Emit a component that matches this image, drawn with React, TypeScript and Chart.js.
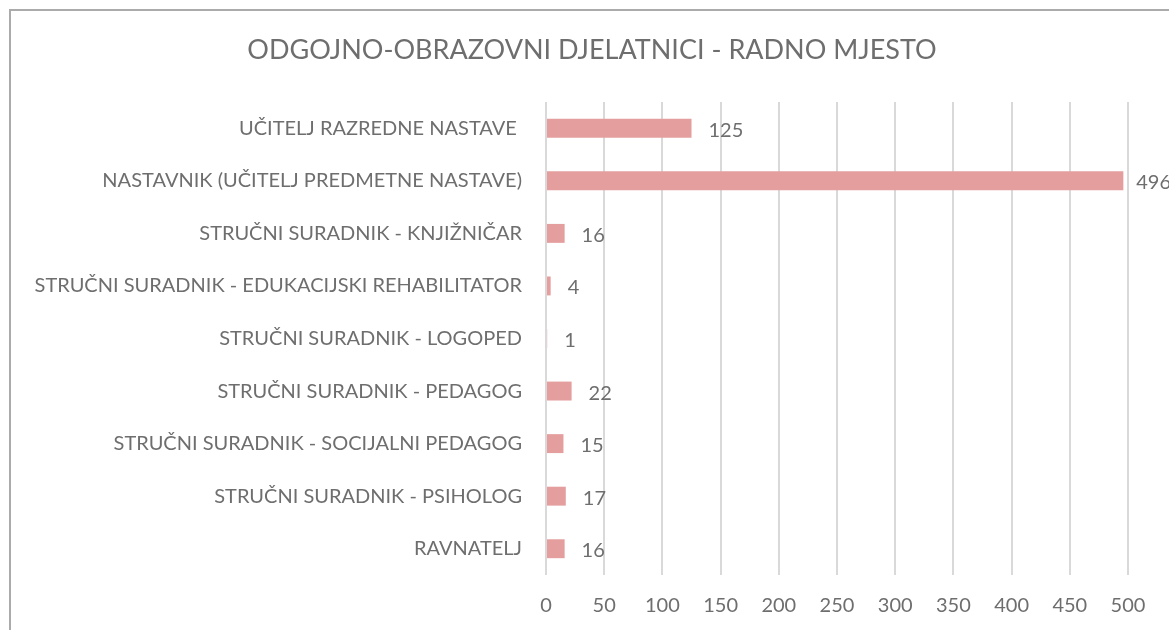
import React, { useEffect, useRef } from "react";
import { Chart, registerables } from "chart.js";

Chart.register(...registerables);

const TITLE = "ODGOJNO-OBRAZOVNI DJELATNICI - RADNO MJESTO";
const categories = [
  "UČITELJ RAZREDNE NASTAVE ",
  "NASTAVNIK (UČITELJ PREDMETNE NASTAVE)",
  "STRUČNI SURADNIK - KNJIŽNIČAR",
  "STRUČNI SURADNIK - EDUKACIJSKI REHABILITATOR",
  "STRUČNI SURADNIK - LOGOPED",
  "STRUČNI SURADNIK - PEDAGOG",
  "STRUČNI SURADNIK - SOCIJALNI PEDAGOG",
  "STRUČNI SURADNIK - PSIHOLOG",
  "RAVNATELJ",
];
const values = [125, 496, 16, 4, 1, 22, 15, 17, 16];
const xTicks = [0, 50, 100, 150, 200, 250, 300, 350, 400, 450, 500];

const FONT = "Lato";
const TEXT = "#6e6e6e";

export default function App() {
  const ref = useRef<HTMLCanvasElement>(null);
  useEffect(() => {
    document.body.style.margin = "0";
    document.body.style.overflow = "hidden";
    const canvas = ref.current!;
    const decor = {
      id: "decor",
      beforeDraw(chart: any) {
        const ctx = chart.ctx;
        ctx.save();
        ctx.fillStyle = "#ffffff";
        ctx.fillRect(0, 0, chart.width, chart.height);
        ctx.fillStyle = "#ababab";
        ctx.fillRect(9, 9, 2, chart.height);
        ctx.fillRect(9, 9, chart.width, 2);
        ctx.fillStyle = TEXT;
        ctx.font = `27px ${FONT}`;
        ctx.textAlign = "center";
        ctx.textBaseline = "middle";
        ctx.fillText(TITLE, 592, 50);
        ctx.restore();
      },
      afterDatasetsDraw(chart: any) {
        const ctx = chart.ctx;
        const meta = chart.getDatasetMeta(0);
        ctx.save();
        ctx.fillStyle = TEXT;
        ctx.font = `20px ${FONT}`;
        ctx.textAlign = "left";
        ctx.textBaseline = "middle";
        meta.data.forEach((bar: any, i: number) => {
          const txt = String(values[i]);
          const w = ctx.measureText(txt).width;
          let x = bar.x + 17;
          if (x + w > chart.width) x = chart.width - w + 2;
          ctx.fillText(txt, x, bar.y + 2);
        });
        ctx.restore();
      },
    };
    const chart = new Chart(canvas, {
      type: "bar",
      data: {
        labels: categories,
        datasets: [
          {
            data: values,
            backgroundColor: "#e49e9e",
            barPercentage: 0.36,
            categoryPercentage: 1,
          },
        ],
      },
      options: {
        indexAxis: "y",
        animation: false,
        responsive: false,
        maintainAspectRatio: false,
        layout: { padding: { top: 102, right: 41, left: 0, bottom: 0 } },
        plugins: {
          legend: { display: false },
          title: { display: false },
          tooltip: { enabled: false },
        },
        scales: {
          x: {
            min: 0,
            max: 500,
            afterBuildTicks: (s: any) => {
              s.ticks = xTicks.map((v) => ({ value: v }));
            },
            afterFit: (s: any) => {
              s.height = 55;
            },
            grid: { color: "#d9d9d9", lineWidth: 2, drawTicks: false },
            border: { display: false },
            ticks: {
              color: TEXT,
              font: { family: FONT, size: 20 },
              padding: 19,
            },
          },
          y: {
            afterFit: (s: any) => {
              s.width = 546;
            },
            grid: { display: false, drawTicks: false },
            border: { display: false },
            ticks: {
              color: TEXT,
              font: { family: FONT, size: 20 },
              padding: 24,
              autoSkip: false,
            },
          },
        },
      },
      plugins: [decor],
    } as any);
    return () => chart.destroy();
  }, []);
  return (
    <canvas
      ref={ref}
      width={1169}
      height={630}
      style={{ position: "fixed", left: 0, top: 0, width: 1169, height: 630 }}
    />
  );
}
